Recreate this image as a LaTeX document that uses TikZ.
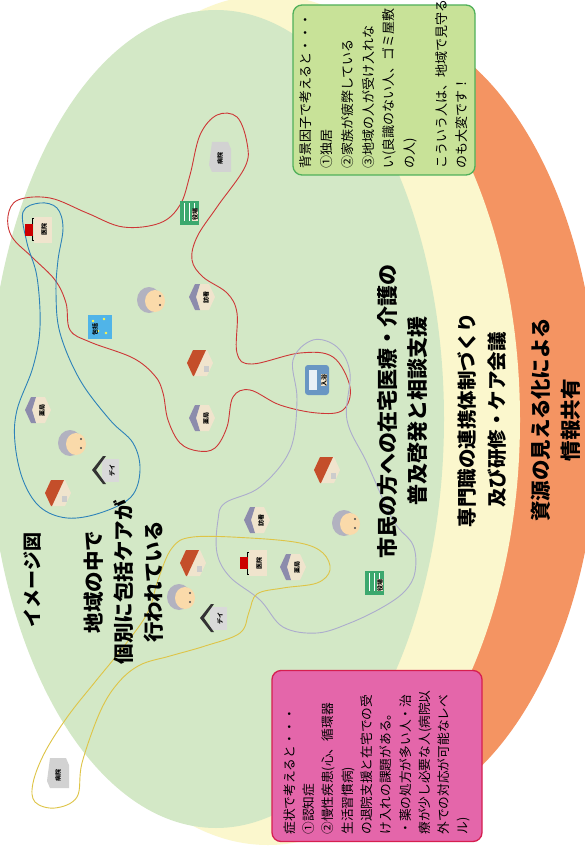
\documentclass[tikz,border=0pt]{standalone}
\usepackage{fontspec}
\newfontfamily\jp{Noto Sans CJK JP}
\definecolor{ringgreen}{RGB}{211,232,198}
\definecolor{ringyellow}{RGB}{251,247,205}
\definecolor{ringorange}{RGB}{244,148,98}
\definecolor{notegreen}{RGB}{200,226,152}
\definecolor{noteedge}{RGB}{80,176,90}
\definecolor{notepink}{RGB}{228,102,170}
\definecolor{pinkedge}{RGB}{214,30,80}
\definecolor{skin}{RGB}{250,218,170}
\definecolor{hair}{RGB}{178,178,192}
\definecolor{roofred}{RGB}{196,78,42}
\definecolor{wall}{RGB}{240,228,205}
\definecolor{roofgray}{RGB}{140,140,172}
\definecolor{officegreen}{RGB}{60,168,110}
\definecolor{centerblue}{RGB}{80,180,232}
\definecolor{vanblue}{RGB}{105,150,195}
\definecolor{loopred}{RGB}{205,55,55}
\definecolor{loopblue}{RGB}{45,130,185}
\definecolor{loopgray}{RGB}{172,172,205}
\definecolor{loopyellow}{RGB}{222,196,70}
\usetikzlibrary{positioning}

\tikzset{
  heading/.style={rotate=90, align=center, inner sep=0pt,
    font=\jp\bfseries\fontsize{#1}{30}\selectfont},
  note/.style={rotate=90, rounded corners=9pt, line width=1.3pt, align=left,
    inner sep=5pt, font=\jp\fontsize{13}{20.7}\selectfont},
  iconlbl/.style={rotate=90, inner sep=0pt, font=\jp\bfseries\fontsize{6}{6}\selectfont},
  outline/.style={line width=0.9pt, smooth cycle, tension=0.6},
  elder/.pic={
    \fill[hair] (-3,0) ellipse [x radius=12, y radius=13];
    \fill[skin] (3,1) ellipse [x radius=10, y radius=11];
    \fill[black!70] (8,-4) circle (1.2) (8,5) circle (1.2);
  },
  home/.pic={
    \fill[wall] (-13,0) -- (-7,-13) -- (7,-13) -- (13,0) -- (7,13) -- (-7,13) -- cycle;
    \fill[roofred] (-13,0) -- (-7,-13) -- (6,-13) -- (0,0) -- (-6,13) -- (-7,13) -- cycle;
    \fill[gray!40] (4,3) rectangle (9,9);
  },
  shop/.pic={
    \fill[wall] (-13,0) -- (-7,-13) -- (7,-13) -- (13,0) -- (7,13) -- (-7,13) -- cycle;
    \fill[roofgray] (-13,0) -- (-7,-13) -- (-2,-13) -- (-6,0) -- (-2,13) -- (-7,13) -- cycle;
    \node[iconlbl] (-lbl) at (4,0) {#1};
  },
  daycare/.pic={
    \fill[gray!30] (-5,-11) rectangle (12,12);
    \fill[black!80] (-15,0) -- (-4,-14) -- (-1,-14) -- (-11,0) -- (-1,14) -- (-4,14) -- cycle;
    \node[iconlbl] (-lbl) at (5,0) {#1};
  },
  clinic/.pic={
    \fill[wall] (-6,-13) rectangle (12,13);
    \draw[black, line width=1pt] (-6,-11) -- (-8,-11) -- (-8,11) -- (-6,11);
    \fill[red!80!black] (-15,-6) rectangle (-7,6);
    \node[iconlbl] (-lbl) at (4,0) {#1};
  },
  office/.pic={
    \fill[officegreen] (-10,-12) rectangle (9,12);
    \foreach \s in {-6,-1,4} \draw[white, line width=0.7pt] (\s,-10) -- (\s,8);
    \node[iconlbl, fill=wall] (-lbl) at (5,2) {#1};
  },
  hospital/.pic={
    \fill[gray!35] (-8,-15) -- (8,-15) -- (11,-8) -- (11,15) -- (-8,15) -- (-11,8) -- cycle;
    \node[iconlbl] (-lbl) at (0,2) {#1};
  },
  support/.pic={
    \fill[centerblue] (-12,-12) rectangle (12,12);
    \foreach \p in {(-7,-6),(-2,4),(4,-8),(6,6)} \fill[yellow!70] \p circle (1.3);
    \node[iconlbl] (-lbl) at (-5,2) {#1};
  },
  bath/.pic={
    \fill[vanblue, rounded corners=3pt] (-12,-15) rectangle (12,15);
    \fill[white!85!vanblue] (-8,-10) rectangle (0,10);
    \node[iconlbl, fill=wall] (-lbl) at (7,0) {#1};
  }
}

\begin{document}
\begin{tikzpicture}[x=1pt, y=-1pt]
  \useasboundingbox (0,0) rectangle (585,858);
  \fill[white] (0,0) rectangle (585,858);

  % rings
  \fill[ringorange] (364,420) ellipse [x radius=234, y radius=400];
  \fill[ringyellow] (268,420) ellipse [x radius=252, y radius=425];
  \fill[ringgreen] (216,419) ellipse [x radius=228, y radius=409];

  % notes
  \node[note, fill=notegreen, draw=noteedge, minimum width=170pt, minimum height=182pt,
        text width=158pt] (haikei) at (384,90) {背景因子で考えると・・・\\
①独居\\
②家族が疲弊している\\
③地域の人が受け入れな\\
い(良識のない人、ゴミ屋敷\\
の人)\\[11pt]
こういう人は、地域で見守る\\
のも大変です！};
  \node[note, fill=notepink, draw=pinkedge, minimum width=171pt, minimum height=210pt,
        text width=157pt, font=\jp\fontsize{12.7}{19.3}\selectfont] (shojo) at (377,756) {症状で考えると・・・\\
①認知症\\
②慢性疾患(心、循環器\\
生活習慣病)\\
の退院支援と在宅での受\\
け入れの課題がある。\\
・薬の処方が多い人・治\\
療が少し必要な人(病院以\\
外での対応が可能なレベ\\
ル)};

  % networks
  \draw[loopred, outline] plot coordinates {(217,115) (237,117) (247,143) (245,167)
    (217,207) (197,237) (192,260) (203,277) (227,293) (237,313) (237,353) (252,364)
    (300,353) (333,357) (350,387) (343,410) (317,413) (280,405) (250,390) (233,397)
    (227,427) (215,448) (198,451) (180,443) (168,420) (163,393) (155,376) (133,358)
    (90,342) (70,330) (66,303) (55,280) (33,258) (12,237) (8,216) (18,200) (50,198)
    (87,213) (123,227) (160,223) (180,205) (190,175) (200,135)};
  \draw[loopblue, outline] plot coordinates {(40,203) (57,208) (63,228) (58,260)
    (56,293) (60,333) (80,380) (110,420) (133,443) (140,470) (131,497) (100,513)
    (67,518) (40,507) (23,480) (15,443) (17,410) (33,367) (40,327) (37,277) (27,243)
    (23,212)};
  \draw[loopgray, outline] plot coordinates {(313,340) (337,347) (350,373) (347,420)
    (367,463) (393,520) (413,545) (415,572) (405,591) (383,607) (350,623) (317,633)
    (283,627) (260,600) (230,577) (217,553) (218,520) (225,503) (260,487) (290,450)
    (297,400) (293,360)};
  \draw[loopyellow, outline] plot coordinates {(193,537) (250,538) (300,543) (323,553)
    (330,570) (317,583) (283,588) (257,594) (249,612) (240,633) (205,646) (170,656)
    (140,665) (118,683) (100,712) (82,763) (77,797) (55,808) (35,802) (33,783) (45,752)
    (68,716) (95,682) (125,645) (148,612) (158,580) (172,548)};

  % people and places
  \pic (elderA) at (73,443) {elder};
  \pic (elderB) at (152,300) {elder};
  \pic (elderC) at (347,523) {elder};
  \pic (elderD) at (182,597) {elder};
  \pic (homeA) at (58,493) {home};
  \pic (homeB) at (200,363) {home};
  \pic (homeC) at (327,470) {home};
  \pic (homeD) at (193,563) {home};
  \pic (drugA) at (38,410) {shop=薬局};
  \pic (drugB) at (202,418) {shop=薬局};
  \pic (drugC) at (293,567) {shop=薬局};
  \pic (nurseA) at (202,297) {shop=訪看};
  \pic (nurseB) at (257,520) {shop=訪看};
  \pic (dayA) at (107,470) {daycare=デイ};
  \pic (dayB) at (215,618) {daycare=デイ};
  \pic (clinicA) at (40,230) {clinic=医院};
  \pic (clinicB) at (255,563) {clinic=医院};
  \pic (officeA) at (190,213) {office=役場};
  \pic (officeB) at (375,583) {office=役場};
  \pic (hospA) at (220,157) {hospital=病院};
  \pic (hospB) at (58,773) {hospital=病院};
  \pic (hokatsu) at (100,327) {support=包括};
  \pic (nyuyoku) at (317,380) {bath=入浴};

  % headings
  \node[heading=19] (zu) at (33,580) {イメージ図};
  \node[heading=20.5] (kobetsu) at (124,582) {地域の中で\\個別に包括ケアが\\行われている};
  \node[heading=21] (shimin) at (402,411) {市民の方への在宅医療・介護の\\普及啓発と相談支援};
  \node[heading=19.5] (renkei) at (482,420) {専門職の連携体制づくり\\及び研修・ケア会議};
  \node[heading=20.5] (shigen) at (556,420) {資源の見える化による\\情報共有};
\end{tikzpicture}
\end{document}
